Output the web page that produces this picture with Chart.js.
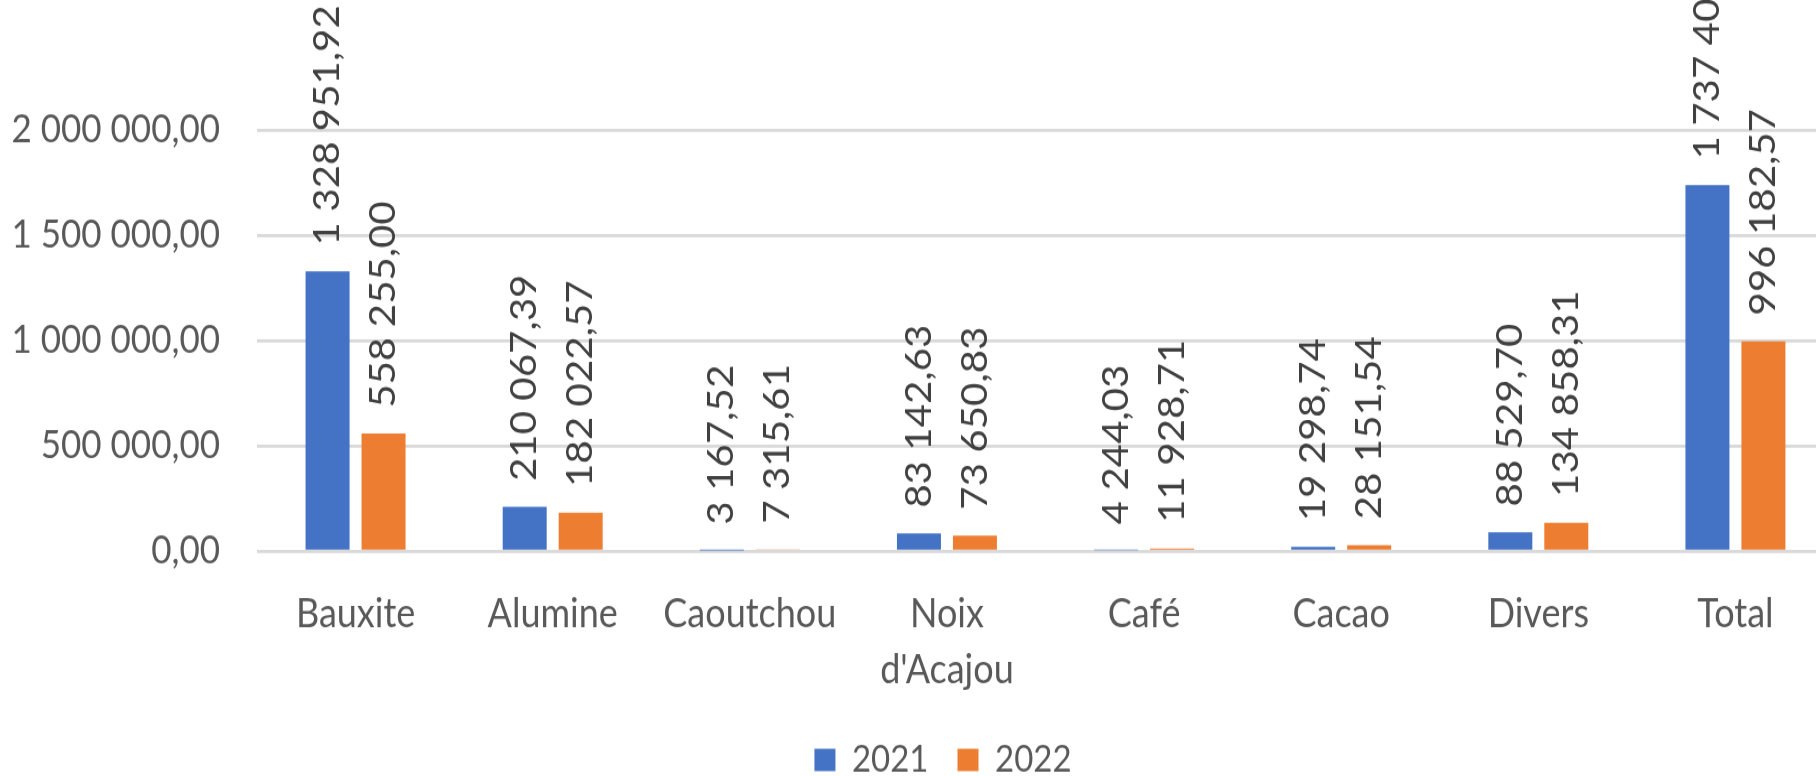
<!DOCTYPE html>
<html>
<head>
<meta charset="utf-8">
<script src="https://cdn.jsdelivr.net/npm/chart.js@4.4.0/dist/chart.umd.min.js"></script>
<style>
    html, body { margin: 0; padding: 0; background: #fff; overflow: hidden; }
    #wrap { width: 1816px; height: 776px; overflow: hidden; position: relative; }
    /* the source picture is stretched vertically, so the canvas is too */
    #myChart { position: absolute; left: 0; top: 0; transform: scaleY(1.12); transform-origin: 0 0; }
</style>
</head>
<body>
<div id="wrap">
    <canvas id="myChart" width="1886" height="705" style="width:1886px;height:705px"></canvas>
</div>
<script>
// Data
const categories = ['Bauxite', 'Alumine', 'Caoutchou', "Noix d'Acajou", 'Café', 'Cacao', 'Divers', 'Total'];
const values2021 = [1328951.92, 210067.39, 3167.52, 83142.63, 4244.03, 19298.74, 88529.70, 1737401.93];
const values2022 = [558255.00, 182022.57, 7315.61, 73650.83, 11928.71, 28151.54, 134858.31, 996182.57];
const seriesNames = ['2021', '2022'];
const yMin = 0;
const yMax = 2000000;
const yStep = 500000;

// 1234567.8 -> "1 234 567,80"
function frNumber(v) {
    const parts = Number(v).toFixed(2).split('.');
    return parts[0].replace(/\B(?=(\d{3})+(?!\d))/g, ' ') + ',' + parts[1];
}

// Vertical value labels above each bar
const barLabels = {
    id: 'barLabels',
    afterDatasetsDraw(chart) {
        const ctx = chart.ctx;
        ctx.save();
        ctx.font = '36px Lato';
        ctx.fillStyle = '#404040';
        ctx.textAlign = 'left';
        ctx.textBaseline = 'middle';
        chart.data.datasets.forEach((ds, i) => {
            chart.getDatasetMeta(i).data.forEach((bar, j) => {
                ctx.save();
                ctx.translate(bar.x, bar.y - 23);
                ctx.rotate(-Math.PI / 2);
                ctx.fillText(frNumber(ds.data[j]), 0, 0);
                ctx.restore();
            });
        });
        ctx.restore();
    }
};

Chart.defaults.font.family = 'Lato';

const data = {
    labels: categories,
    datasets: [{
        label: seriesNames[0],
        backgroundColor: '#4472C4',
        data: values2021
    }, {
        label: seriesNames[1],
        backgroundColor: '#ED7D31',
        data: values2022
    }]
};

const config = {
    type: 'bar',
    data: data,
    plugins: [barLabels],
    options: {
        responsive: false,
        animation: false,
        categoryPercentage: 0.568,
        barPercentage: 0.786,
        layout: {
            padding: { top: 116, right: 0, left: 0, bottom: 0 }
        },
        plugins: {
            tooltip: { enabled: false },
            legend: {
                position: 'bottom',
                labels: {
                    color: '#595959',
                    font: { family: 'Lato', size: 33 },
                    boxWidth: 21,
                    boxHeight: 20,
                    padding: 29
                }
            }
        },
        scales: {
            x: {
                grid: { display: false },
                border: { display: false },
                ticks: {
                    color: '#595959',
                    font: { family: 'Lato', size: 36, lineHeight: 1.38 },
                    padding: 24,
                    maxRotation: 0,
                    autoSkip: false,
                    callback: function (value) {
                        const l = this.getLabelForValue(value);
                        return l.includes(' ') ? l.split(' ') : l; // wrap "Noix d'Acajou"
                    }
                },
                afterFit: function (scale) { scale.height = 141; }
            },
            y: {
                min: yMin,
                max: yMax,
                ticks: {
                    stepSize: yStep,
                    color: '#595959',
                    font: { family: 'Lato', size: 35 },
                    padding: 37,
                    callback: function (v) { return frNumber(v); }
                },
                grid: { color: '#d9d9d9', lineWidth: 2.7, drawTicks: false },
                border: { display: false },
                afterFit: function (scale) { scale.width = 257; }
            },
            // empty strip on the right so the plot runs past the picture edge
            yRight: {
                position: 'right',
                grid: { display: false },
                border: { display: false },
                ticks: { display: false },
                afterFit: function (scale) { scale.width = 52; }
            }
        }
    }
};

var myChart = new Chart(document.getElementById('myChart'), config);
</script>
</body>
</html>
